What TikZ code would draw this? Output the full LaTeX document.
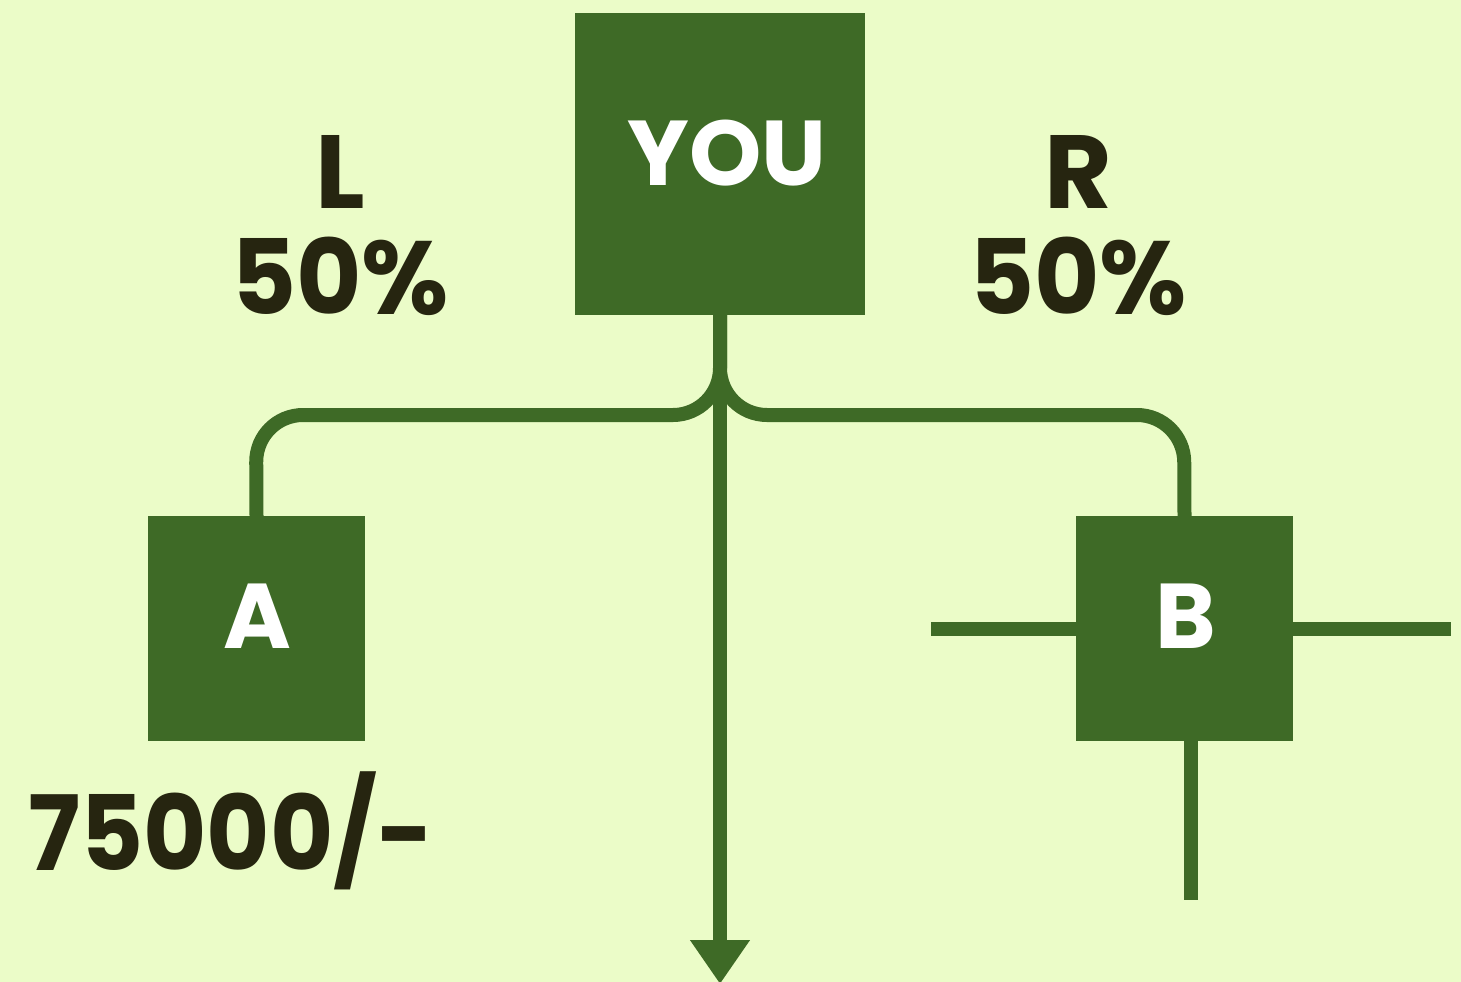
\documentclass[tikz,border=0pt]{standalone}
\usepackage{fontspec}
\setmainfont{Poppins}[BoldFont=* Bold]
\usetikzlibrary{arrows.meta}
\definecolor{bg}{HTML}{EBFCC8}
\definecolor{leaf}{HTML}{3E6A26}
\definecolor{ink}{HTML}{262510}
\tikzset{
  box/.style={fill=leaf, draw=none, inner sep=0pt},
  boxtext/.style={text=white, font=\bfseries\fontsize{92}{92}\selectfont, inner sep=0pt, anchor=center},
  lbl/.style={text=ink, font=\bfseries\fontsize{104}{104}\selectfont, inner sep=0pt, anchor=center},
  conn/.style={draw=leaf, line width=14pt, line cap=butt},
}
\begin{document}
\begin{tikzpicture}[x=1pt, y=-1pt]
\fill[bg] (0,0) rectangle (1461,982);
\useasboundingbox (0,0) rectangle (1461,982);
% boxes
\node[box, minimum width=290pt, minimum height=302pt] (you) at (720,164) {};
\node[boxtext] (youtxt) at (727,153) {YOU};
\node[box, minimum width=217pt, minimum height=225pt] (A) at (256.5,628.5) {};
\node[boxtext] (Atxt) at (257,616) {A};
\node[box, minimum width=217pt, minimum height=225pt] (B) at (1184.5,628.5) {};
\node[boxtext] (Btxt) at (1186,616) {B};
% labels
\node[lbl] (L) at (340,172) {L};
\node[lbl] (Lp) at (340,276) {\scalebox{0.965}[1]{50\%}};
\node[lbl] (R) at (1078,172) {R};
\node[lbl] (Rp) at (1078,276) {\scalebox{0.965}[1]{50\%}};
\node[lbl, anchor=west] (amt) at (28,831) {\scalebox{0.935}[1]{75000/-}};
% connectors
\draw[conn, rounded corners=47pt] (you.south) -- (720,415) -- (256,415) -- (A.north);
\draw[conn, rounded corners=47pt] (you.south) -- (720,415) -- (1184,415) -- (B.north);
\coordinate (tip) at (720,984);
\draw[conn, -{Triangle[width=57pt, length=44pt]}] (you.south) -- (tip);
% B lines
\coordinate (bw) at (931,629);
\coordinate (be) at (1451,629);
\coordinate (bs) at (1191,900);
\draw[conn] (bw) -- (B.west |- bw);
\draw[conn] (B.east |- be) -- (be);
\draw[conn] (bs |- B.south) -- (bs);
\end{tikzpicture}
\end{document}
